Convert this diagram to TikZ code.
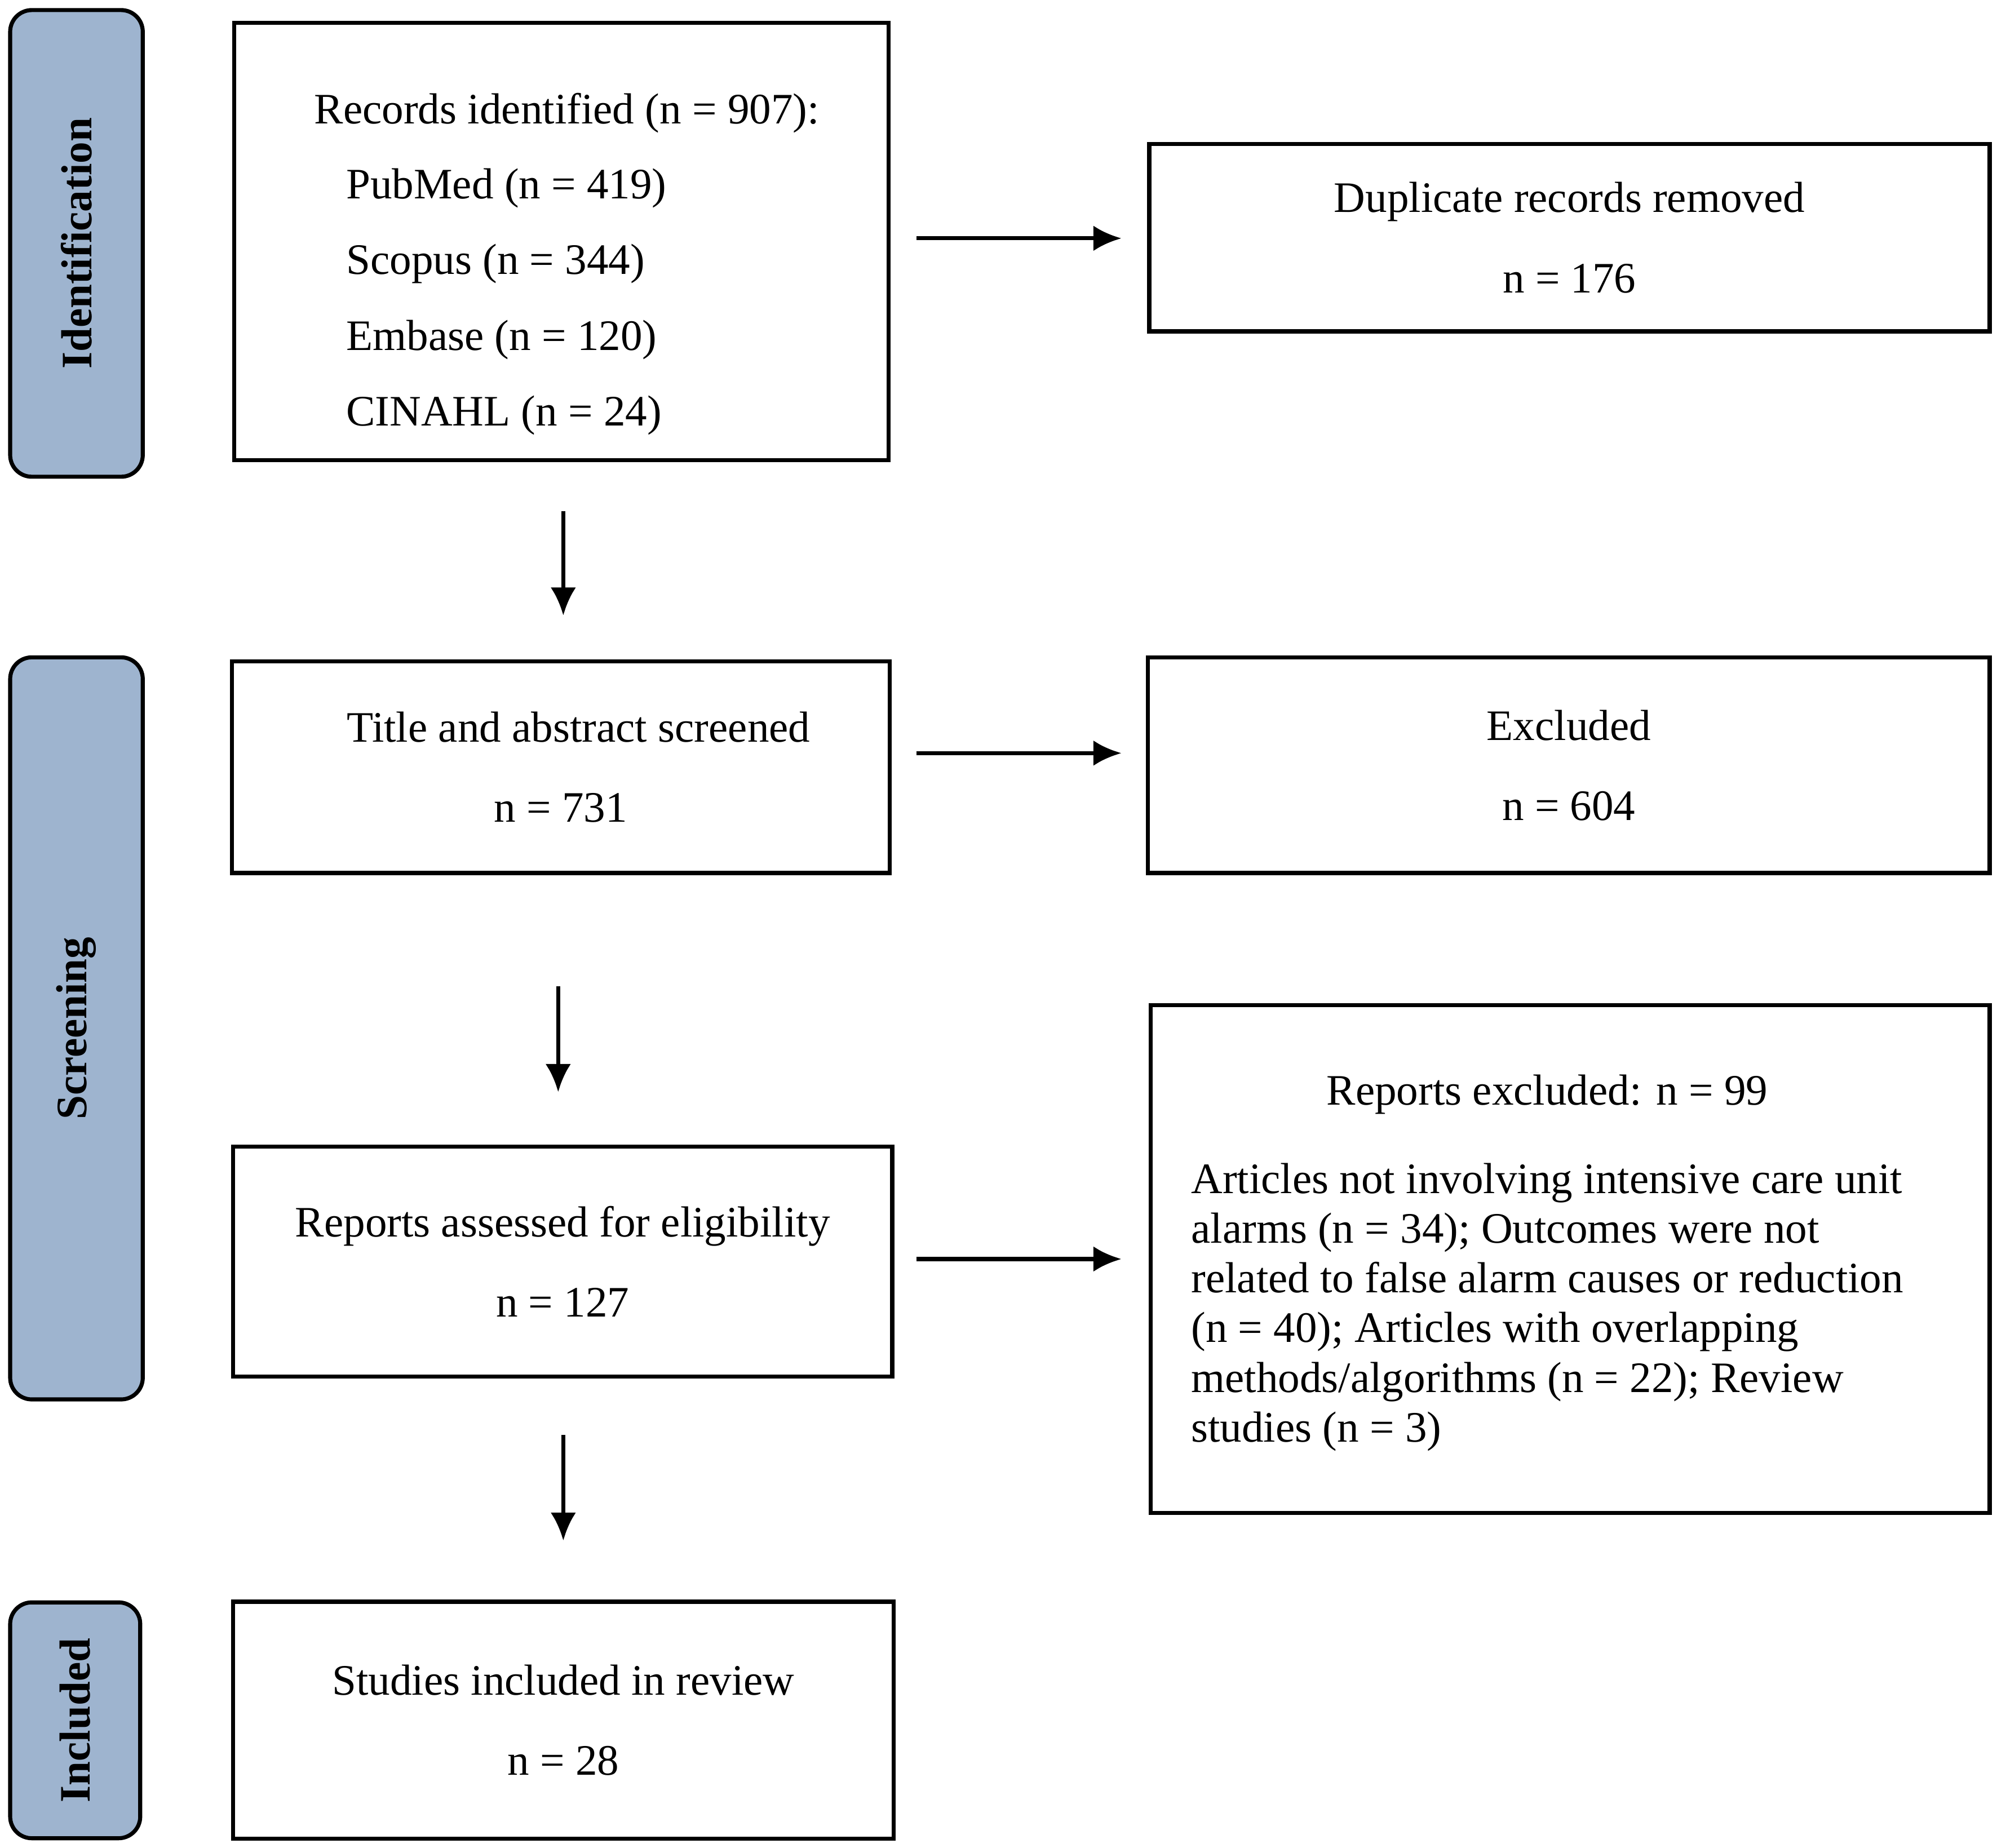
\documentclass[tikz,border=0pt]{standalone}
\usepackage{fontspec}
\setmainfont{Liberation Serif}
\definecolor{phasefill}{HTML}{9EB4CF}
\tikzset{
  box/.style={draw, line width=0.9pt, inner sep=0pt, align=center},
  phase/.style={draw, line width=0.9pt, fill=phasefill, rounded corners=0.17cm, inner sep=0pt},
  phaselabel/.style={rotate=90, font=\bfseries},
  arr/.style={-{Latex[length=0.22cm,width=0.2cm]}, line width=0.9pt},
  txt/.style={inner sep=0pt, anchor=base west}
}
\usetikzlibrary{arrows.meta}
\begin{document}
\fontsize{9.7}{16.8}\selectfont
\begin{tikzpicture}[x=0.01cm, y=-0.01cm]
\useasboundingbox (0,0) rectangle (1567,1450);

% phase bars
\node[phase, minimum width=1.04cm, minimum height=3.66cm] (idbar) at (60,191) {};
\node[phase, minimum width=1.04cm, minimum height=5.82cm] (scbar) at (60,807) {};
\node[phase, minimum width=1.02cm, minimum height=1.85cm] (inbar) at (59,1350) {};
\node[phaselabel] at (idbar) {Identification};
\node[phaselabel] at (scbar) {Screening};
\node[phaselabel] at (inbar) {Included};

% left column
\node[box, minimum width=5.13cm, minimum height=3.43cm] (records) at (440.5,189.5) {};
\node[txt] at (246,97) {Records identified (n = 907):};
\node[txt] at (271,156) {PubMed (n = 419)};
\node[txt] at (271,215) {Scopus (n = 344)};
\node[txt] at (271,275) {Embase (n = 120)};
\node[txt] at (271,334) {CINAHL (n = 24)};
\node[box, minimum width=5.16cm, minimum height=1.66cm] (screened) at (440,602)
  {\hspace{0.28cm}Title and abstract screened\\[1.1pt]n = 731};
\node[box, minimum width=5.17cm, minimum height=1.80cm] (assessed) at (441.5,990)
  {Reports assessed for eligibility\\[1.1pt]n = 127};
\node[box, minimum width=5.18cm, minimum height=1.86cm] (included) at (442,1350)
  {Studies included in review\\[1.1pt]n = 28};

% right column
\node[box, minimum width=6.59cm, minimum height=1.47cm] (duplicates) at (1231.5,186.5)
  {Duplicate records removed\\[1.1pt]n = 176};
\node[box, minimum width=6.60cm, minimum height=1.69cm] (excluded) at (1231,600.5)
  {Excluded\\[1.1pt]n = 604};
\node[box, minimum width=6.58cm, minimum height=3.98cm] (reportsex) at (1232,988) {};
\node[txt, anchor=base] at (1214,867) {Reports excluded: n = 99};
\node[txt, anchor=north west, align=left, font=\fontsize{9.7}{11.1}\selectfont] at (934,912)
  {Articles not involving intensive care unit\\
   alarms (n = 34); Outcomes were not\\
   related to false alarm causes or reduction\\
   (n = 40); Articles with overlapping\\
   methods/algorithms (n = 22); Review\\
   studies (n = 3)};

% arrows
\coordinate (a1) at (719,187);  \coordinate (b1) at (880,187);
\coordinate (a2) at (719,591);  \coordinate (b2) at (880,591);
\coordinate (a3) at (719,988);  \coordinate (b3) at (880,988);
\coordinate (c1) at (442,401);  \coordinate (d1) at (442,483);
\coordinate (c2) at (438,774);  \coordinate (d2) at (438,857);
\coordinate (c3) at (442,1126); \coordinate (d3) at (442,1209);
\draw[arr] (a1) -- (b1);
\draw[arr] (a2) -- (b2);
\draw[arr] (a3) -- (b3);
\draw[arr] (c1) -- (d1);
\draw[arr] (c2) -- (d2);
\draw[arr] (c3) -- (d3);
\end{tikzpicture}
\end{document}
